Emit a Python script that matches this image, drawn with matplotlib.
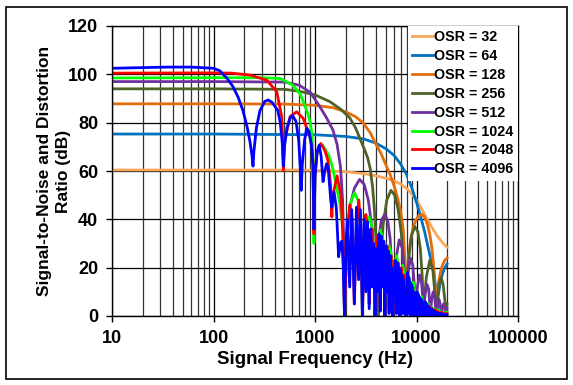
import numpy as np
import matplotlib.pyplot as plt
from matplotlib.patches import Rectangle
from matplotlib.ticker import FuncFormatter

plt.rcParams['font.family'] = ['Liberation Sans', 'DejaVu Sans']
plt.rcParams['font.weight'] = 'bold'

labels = ['OSR = 32', 'OSR = 64', 'OSR = 128', 'OSR = 256',
          'OSR = 512', 'OSR = 1024', 'OSR = 2048', 'OSR = 4096']
colors = ['#F9A65A', '#0070C0', '#E46C0A', '#4F6228',
          '#7030A0', '#00FF00', '#FF0000', '#0000FF']

# (frequency Hz, SINAD dB)
osr32 = [(10, 60.4), (100, 60.4), (500, 60.4), (1000, 60.3), (2000, 59.7), (3000, 58.9),
         (4000, 58.0), (5000, 57.0), (6000, 55.9), (7000, 54.6), (8000, 52.8), (9000, 50.5),
         (10000, 48.0), (11000, 45.0), (12000, 42.0), (13000, 39.5), (14000, 37.0),
         (15000, 35.0), (16000, 33.2), (17000, 31.7), (18000, 30.4), (19000, 29.4), (20000, 28.5)]

osr64 = [(10, 75.3), (100, 75.3), (1000, 75.0), (2000, 74.3), (3000, 73.3), (4000, 71.5),
         (5000, 69.2), (6000, 66.5), (7000, 62.8), (8000, 58.5), (9000, 53.0), (10000, 47.0),
         (11000, 41.0), (12000, 35.0), (13000, 28.5), (14000, 22.5), (15000, 16.5),
         (15500, 11.0), (15900, 3.0), (16300, 8.0), (17000, 13.0), (18000, 17.5),
         (19000, 20.0), (20000, 21.5)]

osr128 = [(10, 87.8), (100, 87.8), (500, 87.7), (1000, 87.2), (1500, 86.2), (2000, 84.5),
          (2500, 82.5), (3000, 79.8), (3500, 75.8), (4000, 71.0), (4500, 67.0), (5000, 62.5),
          (5500, 58.5), (6000, 54.0), (6500, 49.0), (7000, 43.0), (7400, 36.0), (7650, 25.0),
          (7812, 2.0), (8000, 14.0), (8300, 24.0), (8700, 31.0), (9200, 36.0), (9800, 39.5),
          (10500, 41.5), (11300, 42.0), (12000, 41.0), (12800, 38.0), (13500, 34.0),
          (14200, 28.0), (14800, 20.0), (15300, 11.0), (15625, 2.0), (16000, 9.0),
          (16500, 14.0), (17200, 18.0), (18000, 21.0), (19000, 23.0), (20000, 24.0)]

osr256 = [(10, 94.0), (100, 94.0), (500, 93.8), (700, 93.0), (1000, 91.5), (1400, 88.7),
          (1800, 85.5), (2200, 82.0), (2500, 78.0), (2800, 73.0), (3100, 68.5), (3300, 65.5),
          (3500, 61.0), (3700, 53.0), (3850, 44.0), (4000, 30.0), (4120, 12.0), (4200, 0.0),
          (4400, 22.0), (4700, 38.0), (5100, 48.0), (5600, 52.0), (6100, 50.0), (6600, 44.0),
          (7100, 34.0), (7500, 20.0), (7812, 0.0), (8000, 12.0), (8400, 24.0), (8900, 33.0),
          (9600, 37.0), (10300, 35.0), (10900, 28.0), (11400, 16.0), (11719, 0.0),
          (12000, 8.0), (12500, 16.0), (13500, 23.0), (14500, 19.0), (15200, 9.0),
          (15625, 0.0), (16000, 6.0), (16700, 13.0), (17500, 16.0), (18300, 13.0),
          (19100, 6.0), (19531, 0.0), (20000, 5.0)]

osr512 = [(10, 97.0), (100, 97.0), (500, 96.8), (700, 95.5), (900, 92.5), (1100, 87.0),
          (1300, 82.0), (1500, 77.0), (1650, 71.0), (1780, 62.0), (1870, 48.0), (1920, 30.0),
          (1953, 0.0), (2050, 30.0), (2200, 45.0), (2450, 53.0), (2750, 56.5), (3050, 54.5),
          (3350, 48.0), (3600, 38.0), (3800, 22.0), (3906, 0.0), (4050, 18.0), (4250, 32.0),
          (4500, 39.5), (4850, 42.0), (5200, 39.5), (5500, 32.0), (5700, 20.0), (5859, 0.0),
          (6000, 12.0), (6250, 23.0), (6750, 31.5), (7250, 28.0), (7550, 19.0), (7812, 0.0),
          (7950, 8.0), (8200, 17.0), (8700, 24.0), (9200, 21.0), (9550, 12.0), (9766, 0.0),
          (9900, 5.0), (10200, 12.0), (10700, 17.0), (11200, 14.0), (11500, 8.0),
          (11719, 0.0), (11850, 3.0), (12150, 9.0), (12700, 13.0), (13200, 11.0),
          (13500, 5.0), (13672, 0.0), (13800, 2.0), (14100, 7.0), (14600, 10.0),
          (15100, 8.0), (15450, 3.0), (15625, 0.0), (16000, 4.0), (16600, 7.0),
          (17100, 5.0), (17578, 0.0), (17900, 3.0), (18500, 5.0), (19100, 3.5),
          (19531, 0.0), (20000, 3.0)]

osr1024 = [(10, 98.5), (100, 98.6), (300, 98.6), (453, 98.3), (600, 95.6), (713, 92.0),
           (830, 85.0), (900, 80.0), (940, 74.0), (965, 55.0), (977, 30.0), (995, 55.0),
           (1030, 66.0), (1100, 70.5), (1190, 70.7), (1300, 68.0), (1380, 66.0), (1500, 61.0),
           (1600, 55.0), (1750, 47.0), (1860, 38.0), (1920, 20.0), (1953, 0.0),
           (2000, 22.0), (2100, 38.0), (2250, 47.0), (2450, 51.0), (2650, 48.0), (2800, 38.0),
           (2900, 18.0), (2930, 0.0), (2980, 18.0), (3100, 33.0), (3400, 41.0), (3650, 37.0),
           (3820, 22.0), (3906, 0.0), (3960, 14.0), (4100, 28.0), (4400, 35.5), (4650, 32.0),
           (4820, 18.0), (4883, 0.0), (4950, 12.0), (5100, 23.0), (5350, 29.0), (5600, 26.0),
           (5800, 14.0), (5859, 0.0), (5950, 11.0), (6100, 20.0), (6350, 25.0), (6600, 22.0),
           (6780, 11.0), (6836, 0.0), (6950, 10.0), (7300, 21.0), (7600, 17.0), (7812, 0.0),
           (7950, 8.0), (8300, 17.0), (8600, 13.0), (8789, 0.0), (8950, 7.0), (9270, 14.0),
           (9600, 10.0), (9766, 0.0), (9950, 5.0), (10250, 10.0), (10550, 7.0), (10742, 0.0),
           (10950, 4.0), (11230, 8.0), (11500, 5.0), (11719, 0.0), (12200, 6.0), (12695, 0.0),
           (13180, 5.0), (13672, 0.0), (14160, 3.5), (14648, 0.0), (15140, 3.0), (15625, 0.0),
           (16100, 2.5), (16602, 0.0), (17090, 2.0), (17578, 0.0), (18070, 1.5), (18555, 0.0),
           (19040, 1.5), (19531, 0.0), (20000, 1.5)]

osr2048 = [(10, 100.5), (100, 100.6), (150, 100.5), (229, 99.7), (335, 97.6), (420, 92.8),
           (470, 82.5), (478, 74.0), (488, 60.4), (500, 72.0), (568, 82.5), (660, 84.5),
           (765, 81.8), (893, 74.2), (950, 67.0), (977, 34.0), (1000, 58.0), (1050, 68.0),
           (1140, 71.4), (1250, 68.5), (1340, 64.5), (1420, 55.0), (1465, 41.0), (1500, 50.0),
           (1650, 58.0), (1800, 50.0), (1900, 30.0), (1953, 0.0), (2050, 30.0), (2200, 46.0),
           (2330, 40.0), (2441, 5.0), (2550, 35.0), (2700, 48.0), (2850, 35.0), (2930, 0.0),
           (3050, 30.0), (3170, 42.0), (3300, 35.0), (3418, 5.0), (3520, 30.0), (3650, 36.0),
           (3800, 25.0), (3906, 0.0), (4000, 20.0), (4150, 33.0), (4300, 25.0), (4395, 3.0),
           (4500, 25.0), (4640, 31.0), (4780, 22.0), (4883, 0.0), (4990, 20.0), (5120, 29.0),
           (5250, 22.0), (5371, 3.0), (5480, 18.0), (5610, 25.0), (5760, 16.0), (5859, 0.0),
           (5970, 14.0), (6100, 23.0), (6240, 16.0), (6348, 2.0), (6460, 15.0), (6590, 22.0),
           (6730, 14.0), (6836, 0.0), (6950, 13.0), (7080, 20.0), (7210, 13.0), (7324, 2.0),
           (7440, 11.0), (7570, 17.0), (7710, 10.0), (7812, 0.0), (7950, 9.0), (8060, 15.0),
           (8300, 2.0), (8540, 13.0), (8789, 0.0), (9030, 11.0), (9277, 1.0), (9520, 10.0),
           (9766, 0.0), (10010, 9.0), (10254, 1.0), (10500, 8.0), (10742, 0.0), (10990, 7.0),
           (11230, 1.0), (11470, 6.0), (11719, 0.0), (11960, 5.0), (12207, 0.5), (12450, 5.0),
           (12695, 0.0), (12940, 4.0), (13183, 0.5), (13430, 4.0), (13672, 0.0), (13920, 3.0),
           (14160, 0.0), (14400, 3.0), (14648, 0.0), (14900, 2.5), (15140, 0.0), (15380, 2.5),
           (15625, 0.0), (16100, 2.0), (16600, 0.0), (17100, 1.5), (17578, 0.0), (18070, 1.5),
           (18555, 0.0), (19040, 1.0), (19531, 0.0), (20000, 1.0)]

osr4096 = [(10, 102.5), (35, 103.0), (60, 103.0), (100, 102.5), (115, 101.5), (135, 98.5),
           (155, 95.0), (175, 90.5), (195, 85.0), (215, 78.0), (229, 72.0), (240, 66.0),
           (245, 62.0), (250, 68.0), (265, 78.0), (287, 85.0), (320, 88.8), (345, 89.4),
           (380, 88.3), (430, 85.0), (455, 80.0), (475, 72.0), (488, 62.0), (500, 70.0),
           (530, 78.0), (570, 82.0), (600, 83.0), (650, 80.5), (690, 73.0), (715, 62.0),
           (732, 52.0), (750, 63.0), (790, 73.0), (830, 77.6), (870, 76.5), (920, 71.0),
           (955, 62.0), (977, 36.0), (1000, 58.0), (1050, 68.0), (1100, 70.7), (1150, 66.0),
           (1200, 55.6), (1250, 60.0), (1300, 63.0), (1350, 61.0), (1430, 48.0), (1465, 45.0),
           (1500, 48.0), (1540, 51.4), (1620, 45.0), (1709, 24.5), (1780, 30.0), (1840, 31.0),
           (1900, 20.0), (1953, 0.0), (2020, 30.0), (2080, 40.0), (2197, 12.0), (2300, 44.0),
           (2441, 5.0), (2560, 45.0), (2686, 15.0), (2800, 44.0), (2930, 0.0), (3050, 40.0),
           (3174, 10.0), (3290, 39.0), (3418, 3.0), (3540, 36.0), (3662, 12.0), (3780, 30.0),
           (3906, 0.0), (4030, 28.0), (4150, 10.0), (4270, 34.0), (4395, 2.0), (4520, 33.0),
           (4640, 12.0), (4760, 31.0), (4883, 0.0), (5000, 29.0), (5127, 10.0), (5250, 27.0),
           (5371, 1.0), (5490, 25.0), (5615, 10.0), (5740, 20.0), (5859, 0.0), (5980, 18.0),
           (6103, 8.0), (6225, 23.0), (6348, 1.0), (6470, 22.0), (6592, 8.0), (6715, 20.0),
           (6836, 0.0), (6960, 19.0), (7080, 7.0), (7200, 17.0), (7324, 1.0), (7450, 15.0),
           (7568, 6.0), (7690, 12.0), (7812, 0.0), (7930, 12.0), (8057, 5.0), (8180, 18.0),
           (8301, 1.0), (8420, 16.0), (8545, 5.0), (8670, 14.0), (8789, 0.0), (8910, 13.0),
           (9033, 4.0), (9155, 12.0), (9277, 0.5), (9400, 10.0), (9522, 4.0), (9645, 8.0),
           (9766, 0.0), (9890, 7.0), (10010, 3.0), (10130, 10.0), (10254, 0.5), (10380, 9.0),
           (10500, 3.0), (10620, 8.0), (10742, 0.0), (10860, 7.0), (10990, 2.0), (11110, 7.0),
           (11230, 0.5), (11350, 6.0), (11470, 2.0), (11600, 5.0), (11719, 0.0), (11840, 4.0),
           (11960, 1.5), (12080, 6.0), (12207, 0.0), (12330, 5.5), (12450, 1.5), (12570, 5.0),
           (12695, 0.0), (12820, 4.5), (12940, 1.0), (13060, 4.0), (13183, 0.0), (13300, 3.5),
           (13430, 1.0), (13550, 3.0), (13672, 0.0), (13800, 2.0), (13920, 0.5), (14040, 3.0),
           (14160, 0.0), (14280, 2.5), (14400, 0.5), (14520, 2.5), (14648, 0.0), (14770, 2.0),
           (14900, 0.5), (15020, 2.0), (15140, 0.0), (15260, 1.8), (15380, 0.3), (15500, 1.5),
           (15625, 0.0), (15870, 1.5), (16110, 0.0), (16360, 1.2), (16600, 0.0), (16850, 1.0),
           (17090, 0.0), (17330, 1.0), (17578, 0.0), (17820, 0.8), (18070, 0.0), (18310, 0.8),
           (18555, 0.0), (18800, 0.6), (19040, 0.0), (19290, 0.5), (19531, 0.0), (20000, 0.5)]

series = [osr32, osr64, osr128, osr256, osr512, osr1024, osr2048, osr4096]

fig = plt.figure(figsize=(5.73, 3.85), dpi=100)
ax = fig.add_axes([112 / 573, 1 - 316 / 385, 406 / 573, 290 / 385])

for pts, lab, col in zip(series, labels, colors):
    f, db = np.array(pts).T
    ax.plot(f, db, color=col, lw=2, label=lab, solid_joinstyle='round')

ax.set_xscale('log')
ax.set_xlim(10, 100000)
ax.set_ylim(0, 120)
ax.set_yticks(range(0, 121, 20))
ax.xaxis.set_major_formatter(FuncFormatter(lambda v, p: f'{int(v)}'))

ax.grid(which='major', color='k', lw=0.9)
ax.grid(which='minor', axis='x', color='#333333', lw=0.9)
ax.tick_params(which='minor', length=0)
ax.tick_params(which='major', length=4, width=1, labelsize=13, pad=6)
for s in ax.spines.values():
    s.set_linewidth(1)

ax.set_xlabel('Signal Frequency (Hz)', fontsize=13.5, fontweight='bold', labelpad=3)
ax.set_ylabel('Signal-to-Noise and Distortion\nRatio (dB)', fontsize=12.5,
              fontweight='bold', labelpad=-2, linespacing=1.3)

leg = ax.legend(loc='upper right', bbox_to_anchor=(1, 1), borderaxespad=0,
                fancybox=False, framealpha=1, facecolor='white', edgecolor='none',
                prop={'size': 10.3, 'weight': 'bold'}, handlelength=1.45,
                handletextpad=0.12, labelspacing=0.34, borderpad=0.3)

fig.patches.append(Rectangle((6 / 573, 6 / 385), 561 / 573, 372 / 385,
                             transform=fig.transFigure, fill=False,
                             edgecolor='k', lw=1.2))

fig.savefig('out.png', dpi=100)
